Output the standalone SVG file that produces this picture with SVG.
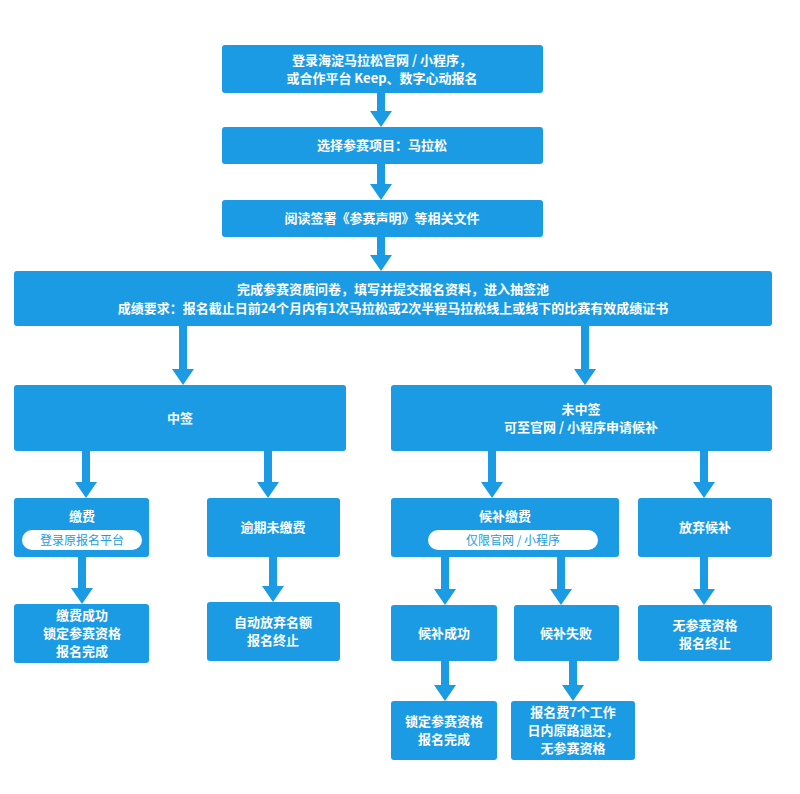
<svg xmlns="http://www.w3.org/2000/svg" width="800" height="794" viewBox="0 0 800 794">
<style>
.b{fill:#1b9be3;}
.t{fill:#fff;font-family:"Noto Sans CJK SC","Liberation Sans",sans-serif;font-weight:bold;font-size:13px;text-anchor:middle;}
.p{fill:#fff;}
.pt{fill:#1b9be3;font-family:"Noto Sans CJK SC","Liberation Sans",sans-serif;font-size:12px;text-anchor:middle;}
.c line{stroke:#1b9be3;stroke-width:8;marker-end:url(#ah);}
</style>
<defs><marker id="ah" viewBox="0 0 16 22" markerWidth="16" markerHeight="22" refX="0" refY="11" orient="auto" markerUnits="userSpaceOnUse"><path d="M0,0L16,11L0,22z" fill="#1b9be3"/></marker></defs>
<rect width="800" height="794" fill="#fff"/>
<g class="c">
<line x1="381" y1="93" x2="381" y2="111"/>
<line x1="381" y1="164" x2="381" y2="184"/>
<line x1="381" y1="237" x2="381" y2="255"/>
<line x1="183" y1="326" x2="183" y2="369"/>
<line x1="585" y1="326" x2="585" y2="369"/>
<line x1="86" y1="451" x2="86" y2="482"/>
<line x1="268" y1="451" x2="268" y2="482"/>
<line x1="492" y1="451" x2="492" y2="482"/>
<line x1="704" y1="451" x2="704" y2="482"/>
<line x1="82" y1="557" x2="82" y2="588"/>
<line x1="273" y1="557" x2="273" y2="586"/>
<line x1="445" y1="557" x2="445" y2="589"/>
<line x1="561" y1="557" x2="561" y2="589"/>
<line x1="704" y1="557" x2="704" y2="589"/>
<line x1="445" y1="661" x2="445" y2="685"/>
<line x1="573" y1="661" x2="573" y2="685"/>
</g>
<g id="n1"><rect class="b" x="222" y="45" width="321" height="48" rx="3"/><text class="t" x="382" y="65">登录海淀马拉松官网 / 小程序，</text><text class="t" x="382" y="83">或合作平台 Keep、数字心动报名</text></g>
<g id="n2"><rect class="b" x="222" y="127" width="321" height="37" rx="3"/><text class="t" x="382" y="150">选择参赛项目：马拉松</text></g>
<g id="n3"><rect class="b" x="222" y="200" width="321" height="37" rx="3"/><text class="t" x="382" y="223">阅读签署《参赛声明》等相关文件</text></g>
<g id="n4"><rect class="b" x="14" y="271" width="758" height="55" rx="3"/><text class="t" x="393" y="294">完成参赛资质问卷，填写并提交报名资料，进入抽签池</text><text class="t" x="393" y="313">成绩要求：报名截止日前24个月内有1次马拉松或2次半程马拉松线上或线下的比赛有效成绩证书</text></g>
<g id="n5"><rect class="b" x="14" y="385" width="332" height="66" rx="3"/><text class="t" x="180" y="423">中签</text></g>
<g id="n6"><rect class="b" x="391" y="385" width="381" height="66" rx="3"/><text class="t" x="581" y="414">未中签</text><text class="t" x="581" y="432">可至官网 / 小程序申请候补</text></g>
<g id="n7"><rect class="b" x="14" y="498" width="135" height="59" rx="3"/><text class="t" x="82" y="521">缴费</text><rect class="p" x="22" y="530" width="120" height="20" rx="10"/><text class="pt" x="82" y="545">登录原报名平台</text></g>
<g id="n8"><rect class="b" x="207" y="498" width="133" height="59" rx="3"/><text class="t" x="273" y="532">逾期未缴费</text></g>
<g id="n9"><rect class="b" x="391" y="498" width="228" height="59" rx="3"/><text class="t" x="505" y="521">候补缴费</text><rect class="p" x="428" y="530" width="170" height="20" rx="10"/><text class="pt" x="513" y="545">仅限官网 / 小程序</text></g>
<g id="n10"><rect class="b" x="638" y="498" width="134" height="59" rx="3"/><text class="t" x="705" y="532">放弃候补</text></g>
<g id="n11"><rect class="b" x="14" y="604" width="135" height="59" rx="3"/><text class="t" x="82" y="620">缴费成功</text><text class="t" x="82" y="638">锁定参赛资格</text><text class="t" x="82" y="656">报名完成</text></g>
<g id="n12"><rect class="b" x="207" y="602" width="133" height="59" rx="3"/><text class="t" x="273" y="627">自动放弃名额</text><text class="t" x="273" y="645">报名终止</text></g>
<g id="n13"><rect class="b" x="391" y="605" width="106" height="56" rx="3"/><text class="t" x="444" y="638">候补成功</text></g>
<g id="n14"><rect class="b" x="514" y="605" width="105" height="56" rx="3"/><text class="t" x="566" y="638">候补失败</text></g>
<g id="n15"><rect class="b" x="638" y="605" width="134" height="56" rx="3"/><text class="t" x="705" y="630">无参赛资格</text><text class="t" x="705" y="648">报名终止</text></g>
<g id="n16"><rect class="b" x="391" y="701" width="106" height="59" rx="3"/><text class="t" x="444" y="726">锁定参赛资格</text><text class="t" x="444" y="744">报名完成</text></g>
<g id="n17"><rect class="b" x="511" y="701" width="124" height="59" rx="3"/><text class="t" x="573" y="717">报名费7个工作</text><text class="t" x="573" y="735">日内原路退还，</text><text class="t" x="573" y="753">无参赛资格</text></g>
</svg>
